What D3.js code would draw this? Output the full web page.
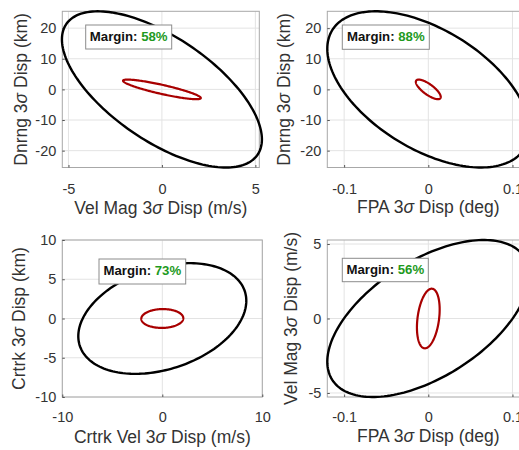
<!DOCTYPE html>
<html>
<head>
<meta charset="utf-8">
<script src="https://cdn.jsdelivr.net/npm/d3@7"></script>
<style>
  html, body { margin: 0; padding: 0; background: #fff; }
  svg { display: block; }
  text { font-family: "Liberation Sans", Arial, Helvetica, sans-serif; }
</style>
</head>
<body>
<svg id="chart" width="519" height="450"></svg>
<script>
// ---------------- data ----------------
const xLabelPre  = ["Vel Mag 3", "FPA 3", "Crtrk Vel 3", "FPA 3"];
const xLabelPost = [" Disp (m/s)", " Disp (deg)", " Disp (m/s)", " Disp (deg)"];
const yLabelPre  = ["Dnrng 3", "Dnrng 3", "Crtrk 3", "Vel Mag 3"];
const yLabelPost = [" Disp (km)", " Disp (km)", " Disp (km)", " Disp (m/s)"];
const margins = [58, 88, 73, 56];

const xLimits = [[-5.33, 5.21], [-0.12, 0.12], [-10, 10], [-0.12, 0.12]];
const yLimits = [[-25.5, 25.5], [-25.5, 25.5], [-10, 10], [-5.27, 5.27]];

const xTicks = [[-5, 0, 5], [-0.1, 0, 0.1], [-10, 0, 10], [-0.1, 0, 0.1]];
const xTickLabels = [["-5", "0", "5"], ["-0.1", "0", "0.1"], ["-10", "0", "10"], ["-0.1", "0", "0.1"]];
const yTicks = [[-20, -10, 0, 10, 20], [-20, -10, 0, 10, 20], [-10, -5, 0, 5, 10], [-5, 0, 5]];
const yTickLabels = [["-20", "-10", "0", "10", "20"], ["-20", "-10", "0", "10", "20"],
                     ["-10", "-5", "0", "5", "10"], ["-5", "0", "5"]];

// 3-sigma dispersion ellipses: half-extent in x, half-extent in y, correlation
const outerHalfX = [5.35, 0.12, 8.4, 0.12];
const outerHalfY = [25.5, 25.5, 7.05, 5.27];
const outerCorr  = [-0.64, -0.52, 0.32, 0.55];
const innerHalfX = [2.08, 0.0148, 2.1, 0.0135];
const innerHalfY = [3.2, 3.2, 1.2, 2.0];
const innerCorr  = [-0.88, -0.77, 0.03, 0.3];

// ---------------- layout ----------------
const layout = [
  { x0: 62.3, x1: 259.3, y0: 11.3, y1: 167.5, box: [85.7, 25, 86, 24],   yLab: 40.5, xLabY: 213.5, tickY: 190 },
  { x0: 327.3, x1: 529.3, y0: 11.3, y1: 167.5, box: [342.3, 25, 87, 24.3], yLab: 42.3, xLabY: 212.5, tickY: 190 },
  { x0: 62.3, x1: 262.3, y0: 240, y1: 397,   box: [99, 259, 86.7, 25],  yLab: 42.3, xLabY: 442.5, tickY: 418.5 },
  { x0: 327.3, x1: 529.3, y0: 240, y1: 397,   box: [342.3, 258.3, 86, 23.4], yLab: 35.6, xLabY: 441.5, tickY: 418.5 }
];

const svg = d3.select("#chart");
const axisColor = "#333333";
const tickFont = 14.5, labelFont = 17.5;

function ellipsePts(hx, hy, c) {
  const phi = Math.acos(c);
  return d3.range(0, 361, 2).map(d => {
    const t = d * Math.PI / 180;
    return [hx * Math.cos(t), hy * Math.cos(t - phi)];
  });
}

layout.forEach((L, i) => {
  const x = d3.scaleLinear().domain(xLimits[i]).range([L.x0, L.x1]);
  const y = d3.scaleLinear().domain(yLimits[i]).range([L.y1, L.y0]);
  const g = svg.append("g");

  // background
  g.append("rect").attr("x", L.x0).attr("y", L.y0)
    .attr("width", L.x1 - L.x0).attr("height", L.y1 - L.y0).attr("fill", "#fff");

  // grid
  g.selectAll(".gx").data(xTicks[i]).enter().append("line")
    .attr("x1", d => x(d)).attr("x2", d => x(d)).attr("y1", L.y0).attr("y2", L.y1)
    .attr("stroke", "#e3e3e3").attr("stroke-width", 1);
  g.selectAll(".gy").data(yTicks[i]).enter().append("line")
    .attr("x1", L.x0).attr("x2", L.x1).attr("y1", d => y(d)).attr("y2", d => y(d))
    .attr("stroke", "#e3e3e3").attr("stroke-width", 1);

  // box
  g.append("rect").attr("x", L.x0).attr("y", L.y0)
    .attr("width", L.x1 - L.x0).attr("height", L.y1 - L.y0)
    .attr("fill", "none").attr("stroke", "#a8a8a8").attr("stroke-width", 1);

  // axes via d3
  const xa = d3.axisBottom(x).tickValues(xTicks[i])
    .tickFormat((d, k) => xTickLabels[i][k]).tickSizeInner(-2.5).tickSizeOuter(0).tickPadding(6);
  const gx = g.append("g").attr("transform", `translate(0,${L.y1})`).call(xa);
  gx.select(".domain").remove();
  gx.selectAll(".tick line").attr("stroke", "#555");
  gx.selectAll(".tick text").attr("font-size", tickFont).attr("fill", axisColor)
    .attr("dy", null).attr("y", L.tickY - L.y1).attr("dominant-baseline", "middle")
    .attr("font-family", '"Liberation Sans", Arial, sans-serif');

  const ya = d3.axisLeft(y).tickValues(yTicks[i])
    .tickFormat((d, k) => yTickLabels[i][k]).tickSizeInner(-2.5).tickSizeOuter(0).tickPadding(6);
  const gy = g.append("g").attr("transform", `translate(${L.x0},0)`).call(ya);
  gy.select(".domain").remove();
  gy.selectAll(".tick line").attr("stroke", "#555");
  gy.selectAll(".tick text").attr("font-size", tickFont).attr("fill", axisColor)
    .attr("x", -6).attr("font-family", '"Liberation Sans", Arial, sans-serif');

  // ellipses (no clipping, as in reference)
  const line = d3.line().x(d => x(d[0])).y(d => y(d[1])).curve(d3.curveLinearClosed);
  g.append("path").datum(ellipsePts(outerHalfX[i], outerHalfY[i], outerCorr[i]))
    .attr("d", line).attr("fill", "none").attr("stroke", "#000").attr("stroke-width", 2.4);
  g.append("path").datum(ellipsePts(innerHalfX[i], innerHalfY[i], innerCorr[i]))
    .attr("d", line).attr("fill", "none").attr("stroke", "#a80000").attr("stroke-width", 2.2);

  // labels
  const xl = g.append("text").attr("x", (L.x0 + L.x1) / 2).attr("y", L.xLabY)
    .attr("text-anchor", "middle").attr("font-size", labelFont).attr("fill", axisColor);
  xl.append("tspan").text(xLabelPre[i]);
  xl.append("tspan").attr("font-style", "italic").text("σ");
  xl.append("tspan").text(xLabelPost[i]);

  const ycx = L.x0 - L.yLab, ycy = (L.y0 + L.y1) / 2;
  const yl = g.append("text").attr("transform", `translate(${ycx},${ycy}) rotate(-90)`)
    .attr("text-anchor", "middle").attr("dominant-baseline", "middle")
    .attr("font-size", labelFont).attr("fill", axisColor);
  yl.append("tspan").text(yLabelPre[i]);
  yl.append("tspan").attr("font-style", "italic").text("σ");
  yl.append("tspan").text(yLabelPost[i]);

  // margin box
  const [bx, by, bw, bh] = L.box;
  g.append("rect").attr("x", bx).attr("y", by).attr("width", bw).attr("height", bh)
    .attr("fill", "#fff").attr("stroke", "#8c8c8c").attr("stroke-width", 1);
  const mt = g.append("text").attr("x", bx + bw / 2).attr("y", by + bh / 2 + 0.5)
    .attr("text-anchor", "middle").attr("dominant-baseline", "middle")
    .attr("font-size", 13.2).attr("font-weight", "bold");
  mt.append("tspan").attr("fill", "#111").text("Margin: ");
  mt.append("tspan").attr("fill", "#1e9a1e").text(margins[i] + "%");
});
</script>
</body>
</html>
